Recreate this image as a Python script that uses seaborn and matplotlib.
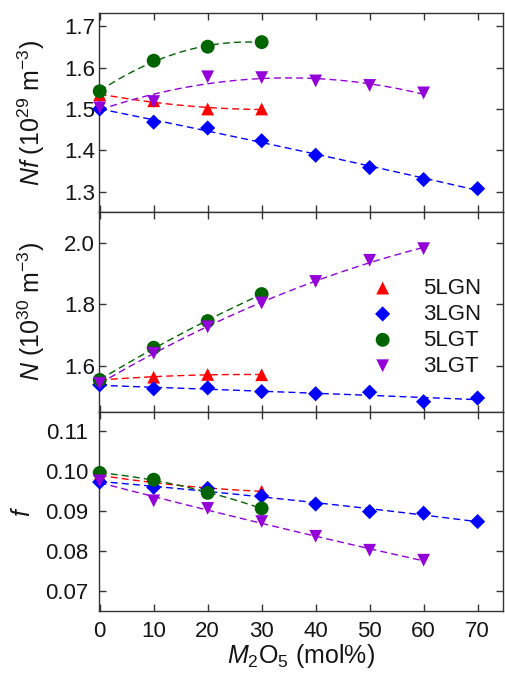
import numpy as np
import pandas as pd
import matplotlib
matplotlib.use("Agg")
import matplotlib.pyplot as plt
import seaborn as sns

# composition (mol% M2O5)
x_5 = [0, 10, 20, 30]
x_3 = [0, 10, 20, 30, 40, 50, 60, 70]
x_3t = [0, 10, 20, 30, 40, 50, 60]

# Nf (1e29 m^-3)
nf_5lgn = [1.535, 1.520, 1.500, 1.500]
nf_3lgn = [1.500, 1.468, 1.454, 1.423, 1.388, 1.358, 1.329, 1.307]
nf_5lgt = [1.543, 1.617, 1.651, 1.662]
nf_3lgt = [1.503, 1.518, 1.578, 1.576, 1.568, 1.557, 1.539]

# N (1e30 m^-3)
n_5lgn = [1.553, 1.562, 1.571, 1.570]
n_3lgn = [1.537, 1.524, 1.527, 1.515, 1.508, 1.513, 1.482, 1.494]
n_5lgt = [1.553, 1.658, 1.745, 1.833]
n_3lgt = [1.542, 1.640, 1.726, 1.804, 1.874, 1.943, 1.981]

# f
f_5lgn = [0.0990, 0.0972, 0.0958, 0.0950]
f_3lgn = [0.0973, 0.0960, 0.0957, 0.0938, 0.0918, 0.0899, 0.0895, 0.0874]
f_5lgt = [0.0996, 0.0979, 0.0946, 0.0907]
f_3lgt = [0.0976, 0.0926, 0.0907, 0.0874, 0.0837, 0.0802, 0.0777]

names = ["5LGN", "3LGN", "5LGT", "3LGT"]
colors = {"5LGN": "#ff0000", "3LGN": "#0000ff", "5LGT": "#006400", "3LGT": "#9400d8"}
markers = {"5LGN": "^", "3LGN": "D", "5LGT": "o", "3LGT": "v"}
sizes = {"5LGN": 85, "3LGN": 60, "5LGT": 100, "3LGT": 85}
xs = {"5LGN": x_5, "3LGN": x_3, "5LGT": x_5, "3LGT": x_3t}

TICK_FS = 16
LAB_FS = 18

sns.set_theme(style="ticks")
plt.rcParams['font.family'] = ['Liberation Sans', 'DejaVu Sans']
plt.rcParams['mathtext.fontset'] = 'custom'
plt.rcParams['mathtext.rm'] = 'Liberation Sans'
plt.rcParams['mathtext.it'] = 'Liberation Sans:italic'
for k in ['text.color', 'axes.labelcolor', 'xtick.labelcolor', 'ytick.labelcolor']:
    plt.rcParams[k] = '#151515'

fig, axes = plt.subplots(3, 1, figsize=(5.06, 6.75), dpi=100, sharex=True)
fig.subplots_adjust(left=0.196, right=0.994, top=0.981, bottom=0.095, hspace=0)

panels = [
    ({"5LGN": nf_5lgn, "3LGN": nf_3lgn, "5LGT": nf_5lgt, "3LGT": nf_3lgt},
     r'$Nf$ (10$^{29}$ m$^{-3}$)', (1.25, 1.733), [1.3, 1.4, 1.5, 1.6, 1.7], "{:.1f}", 2.5, -0.128),
    ({"5LGN": n_5lgn, "3LGN": n_3lgn, "5LGT": n_5lgt, "3LGT": n_3lgt},
     r'$N$ (10$^{30}$ m$^{-3}$)', (1.45, 2.10), [1.6, 1.8, 2.0], "{:.1f}", 3.0, -0.128),
    ({"5LGN": f_5lgn, "3LGN": f_3lgn, "5LGT": f_5lgt, "3LGT": f_3lgt},
     r'$f$', (0.065, 0.115), [0.07, 0.08, 0.09, 0.10, 0.11], "{:.2f}", 8.0, -0.160),
]

for i, (ax, (data, ylab, ylim, yt, fmt, ypad, ylx)) in enumerate(zip(axes, panels)):
    # fitted dashed curves
    for nm in names:
        x = np.array(xs[nm], dtype=float)
        y = np.array(data[nm])
        c = np.polyfit(x, y, 2)
        xf = np.linspace(x.min(), x.max(), 100)
        sns.lineplot(x=xf, y=np.polyval(c, xf), ax=ax, color=colors[nm],
                     linestyle=(0, (5, 3)), linewidth=1.0, legend=False)
    for nm in names:
        df = pd.DataFrame({"x": xs[nm], "y": data[nm]})
        sns.scatterplot(data=df, x="x", y="y", ax=ax, marker=markers[nm],
                        color=colors[nm], s=sizes[nm], edgecolor="none",
                        label=nm, clip_on=False, zorder=3)
    ax.set_ylim(*ylim)
    ax.set_yticks(yt)
    ax.set_yticklabels([fmt.format(v) for v in yt])
    ax.set_ylabel(ylab, fontsize=LAB_FS)
    ax.yaxis.set_label_coords(ylx, 0.5)
    ax.set_xlim(-0.1, 74.7)
    ax.set_xticks(range(0, 80, 10))
    ax.tick_params(direction="in", top=True, right=True, length=5, width=1,
                   color="#333333", labelsize=TICK_FS)
    ax.tick_params(axis="y", pad=ypad)
    ax.tick_params(axis="x", pad=7)
    for sp in ax.spines.values():
        sp.set_color("#333333")
        sp.set_linewidth(1)
    if i == 1:
        ax.legend(loc="upper left", bbox_to_anchor=(0.625, 0.715), frameon=False,
                  handletextpad=0.8, labelspacing=0.22, fontsize=TICK_FS,
                  borderaxespad=0)
    else:
        leg = ax.get_legend()
        if leg:
            leg.remove()
    ax.set_xlabel("")

axes[2].set_xlabel(r'$M_{\mathrm{2}}$O$_{\mathrm{5}}$ (mol%)', fontsize=LAB_FS, labelpad=0)

fig.savefig("out.png", dpi=100)
